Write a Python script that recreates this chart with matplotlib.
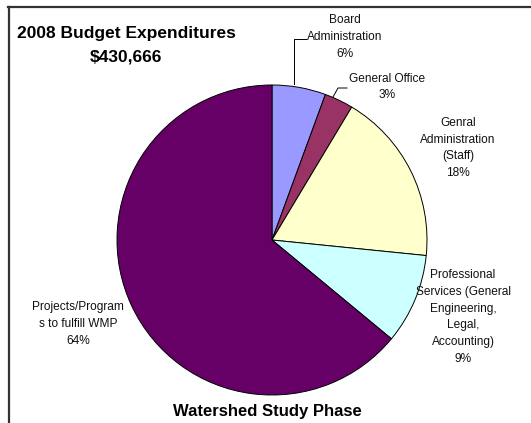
import matplotlib.pyplot as plt
from matplotlib.lines import Line2D

# 2008 budget split, percent of $430,666
categories = ["Board\nAdministration", "General Office", "Genral\nAdministration\n(Staff)",
              "Professional\nServices (General\nEngineering,\nLegal,\nAccounting)",
              "Projects/Program\ns to fulfill WMP"]
shares = [5.6, 3.0, 18.0, 9.4, 64.0]
colors = ["#9999FF", "#993366", "#FFFFCC", "#CCFFFF", "#660066"]

W, H = 531, 423
plt.rcParams['font.family'] = ['Liberation Sans', 'DejaVu Sans']

fig = plt.figure(figsize=(W / 100, H / 100), dpi=100, facecolor='w')
ax = fig.add_axes([0, 0, 1, 1])

def py(y):
    # pixel row (from top) -> data y
    return H - y

ax.pie(shares, colors=colors, startangle=90, counterclock=False,
       center=(272, py(240)), radius=155, frame=True,
       wedgeprops=dict(edgecolor='black', linewidth=0.7))
ax.set_xlim(0, W)
ax.set_ylim(0, H)
ax.set_aspect('equal')
ax.axis('off')

# label placement (center x, center y in pixels)
label_pos = [(345, 37), (387, 87), (458, 148), (463, 317), (78, 324)]
for name, val, (lx, ly) in zip(categories, shares, label_pos):
    ax.text(lx, py(ly), name + "\n" + "%d%%" % round(val), ha='center', va='center',
            fontsize=8.6, linespacing=1.55, color='#111111')

# leader lines
ax.plot([294, 294, 306], [py(84), py(39), py(39)], color='black', lw=0.7)
ax.plot([333, 338, 347], [py(97), py(88), py(88)], color='black', lw=0.7)

ax.text(126, py(33), "2008 Budget Expenditures", ha='center', va='center',
        fontsize=12.5, fontweight='bold')
ax.text(126, py(57), "$430,666", ha='center', va='center',
        fontsize=12.5, fontweight='bold')
ax.text(267, py(411), "Watershed Study Phase", ha='center', va='center',
        fontsize=12, fontweight='bold')

# chart frame (only top and left are visible)
fig.add_artist(Line2D([8 / W, 530 / W], [1 - 7.5 / H, 1 - 7.5 / H], color='#333333', lw=1.6,
                      transform=fig.transFigure))
fig.add_artist(Line2D([9 / W, 9 / W], [0, 1 - 7.5 / H], color='#333333', lw=1.6,
                      transform=fig.transFigure))

plt.savefig("out.png", dpi=100, facecolor='w')
